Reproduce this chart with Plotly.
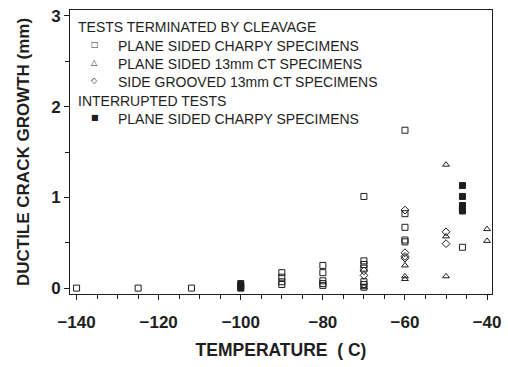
import plotly.graph_objects as go

# ---- data ----
charpy_cleavage_x = [-140, -125, -112, -90, -90, -90, -90, -80, -80, -80, -80, -80,
                     -70, -70, -70, -70, -70, -70, -70, -60, -60, -60, -60, -60, -46]
charpy_cleavage_y = [0.0, 0.0, 0.0, 0.17, 0.12, 0.07, 0.04, 0.25, 0.17, 0.08, 0.05, 0.03,
                     1.01, 0.30, 0.26, 0.22, 0.07, 0.04, 0.01, 1.74, 0.82, 0.67, 0.53, 0.51, 0.45]
ct_cleavage_x = [-70, -60, -60, -60, -50, -50, -50, -40, -40]
ct_cleavage_y = [0.01, 0.25, 0.13, 0.10, 1.36, 0.57, 0.13, 0.65, 0.52]
sg_cleavage_x = [-70, -70, -60, -60, -60, -60, -50, -50]
sg_cleavage_y = [0.19, 0.14, 0.86, 0.39, 0.35, 0.33, 0.62, 0.49]
charpy_interrupted_x = [-100, -100, -100, -46, -46, -46, -46, -46]
charpy_interrupted_y = [0.05, 0.02, 0.0, 1.13, 1.01, 0.91, 0.88, 0.85]

x_ticks = [-140, -120, -100, -80, -60, -40]
x_ticktext = ["\u2212140", "\u2212120", "\u2212100", "\u221280", "\u221260", "\u221240"]
y_ticks = [0, 1, 2, 3]

legend_rows = [
    ("header", "TESTS TERMINATED BY CLEAVAGE", ""),
    ("item", "PLANE SIDED CHARPY SPECIMENS", "\u25a1"),
    ("item", "PLANE SIDED 13mm CT SPECIMENS", "\u25b3"),
    ("item", "SIDE GROOVED 13mm CT SPECIMENS", "\u25c7"),
    ("header", "INTERRUPTED TESTS", ""),
    ("item", "PLANE SIDED CHARPY SPECIMENS", "\u25a0"),
]

ink = "#1e1e1e"
FONT = "Liberation Sans, Arial, sans-serif"
fig = go.Figure()

def mk(symbol):
    return dict(symbol=symbol, size=6, color=ink, line=dict(width=1, color=ink))

fig.add_trace(go.Scatter(x=charpy_cleavage_x, y=charpy_cleavage_y, mode="markers",
                         name="PLANE SIDED CHARPY SPECIMENS (cleavage)", marker=mk("square-open")))
fig.add_trace(go.Scatter(x=ct_cleavage_x, y=ct_cleavage_y, mode="markers",
                         name="PLANE SIDED 13mm CT SPECIMENS", marker=mk("triangle-up-open")))
fig.add_trace(go.Scatter(x=sg_cleavage_x, y=sg_cleavage_y, mode="markers",
                         name="SIDE GROOVED 13mm CT SPECIMENS", marker=mk("diamond-open")))
fig.add_trace(go.Scatter(x=charpy_interrupted_x, y=charpy_interrupted_y, mode="markers",
                         name="PLANE SIDED CHARPY SPECIMENS (interrupted)", marker=mk("square")))

# legend drawn as text annotations (plot area: x 70..495 px, y 7..294 px)
def px2paper(px, py):
    return (px - 70) / 425.0, (294 - py) / 287.0

row_y0, row_dy = 24.5, 18.5
for i, (kind, text, sym) in enumerate(legend_rows):
    py = row_y0 + i * row_dy
    if kind == "header":
        xp, yp = px2paper(76, py)
        fig.add_annotation(x=xp, y=yp, xref="paper", yref="paper", text=text,
                           showarrow=False, xanchor="left", yanchor="middle",
                           font=dict(size=14, family=FONT, color=ink))
    else:
        xs, yp = px2paper(95, py - 1.5)
        fig.add_annotation(x=xs, y=yp, xref="paper", yref="paper", text=sym,
                           showarrow=False, xanchor="center", yanchor="middle",
                           font=dict(size=8, family="DejaVu Sans", color=ink))
        xt, yp = px2paper(116, py)
        fig.add_annotation(x=xt, y=yp, xref="paper", yref="paper", text=text,
                           showarrow=False, xanchor="left", yanchor="middle",
                           font=dict(size=14, family=FONT, color=ink))

fig.update_layout(
    width=508, height=367,
    margin=dict(l=70, r=13, t=7, b=73),
    paper_bgcolor="white", plot_bgcolor="white",
    font=dict(family=FONT, color=ink),
    showlegend=False,
)
fig.update_xaxes(
    range=[-141.6, -38.8], tickvals=x_ticks, ticktext=x_ticktext,
    showgrid=False, zeroline=False, showline=True, linecolor=ink, linewidth=1, mirror=True,
    ticks="outside", ticklen=5, tickcolor=ink, tickwidth=1,
    minor=dict(dtick=5, ticks="outside", ticklen=4, tickcolor=ink, tickwidth=1, showgrid=False),
    tickfont=dict(size=17, family=FONT, weight="bold"),
    ticklabelstandoff=8,
    title=dict(text="<b>TEMPERATURE  ( C)</b>", font=dict(size=17.5), standoff=12),
)
fig.update_yaxes(
    range=[-0.065, 3.065], tickvals=y_ticks,
    showgrid=False, zeroline=False, showline=True, linecolor=ink, linewidth=1, mirror=True,
    ticks="outside", ticklen=5, tickcolor=ink, tickwidth=1,
    minor=dict(dtick=0.5, ticks="outside", ticklen=4, tickcolor=ink, tickwidth=1, showgrid=False),
    tickfont=dict(size=17, family=FONT, weight="bold"),
    title=dict(text="<b>DUCTILE CRACK GROWTH (mm)</b>", font=dict(size=17), standoff=17),
)

fig.write_html("out.html")
